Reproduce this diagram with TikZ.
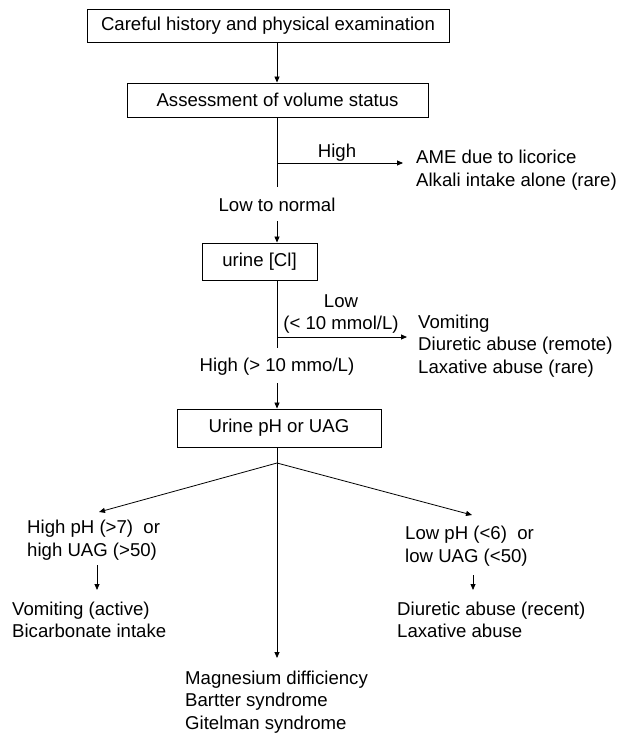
\documentclass[tikz,border=0pt]{standalone}
\usepackage{fontspec}
\setmainfont{Liberation Sans}
\usetikzlibrary{arrows.meta}
\begin{document}
\begin{tikzpicture}[x=1bp,y=-1bp,
  every node/.style={font=\fontsize{18.6bp}{22.5bp}\selectfont, inner sep=0pt},
  box/.style={draw, line width=0.9bp},
  lbl/.style={align=center},
  txt/.style={align=left, anchor=west},
  arr/.style={line width=0.8bp, -{Triangle[length=6bp,width=5bp]}},
  ln/.style={line width=0.8bp}]
\fill[white] (0,0) rectangle (621,735);
\useasboundingbox (0,0) rectangle (621,735);

% boxes
\node[box, minimum width=362bp, minimum height=33bp] (b1) at (268,25.5) {Careful history and physical examination};
\node[box, minimum width=301bp, minimum height=34bp] (b2) at (277.5,100) {Assessment of volume status};
\node[box, minimum width=115bp, minimum height=37bp] (b3) at (259.5,261.5) {urine [Cl]};
\node[box, minimum width=204bp, minimum height=38bp] (b4) at (279,428) {Urine pH or UAG};

% labels and results
\node[lbl] (high1) at (337,153) {High};
\node[txt] (ame) at (416,170) {AME due to licorice\\Alkali intake alone (rare)};
\node[lbl] (ltn) at (277,205) {Low to normal};
\node[lbl] (low) at (341,314) {Low\\(< 10 mmol/L)};
\node[txt] (vom) at (418,346) {Vomiting\\Diuretic abuse (remote)\\Laxative abuse (rare)};
\node[lbl] (high2) at (277,367) {High (> 10 mmo/L)};
\node[txt] (hp) at (27,540) {High pH (>7)\ \ or\\high UAG (>50)};
\node[txt] (vact) at (12,620) {Vomiting (active)\\Bicarbonate intake};
\node[txt] (lp) at (405,546) {Low pH (<6)\ \ or\\low UAG (<50)};
\node[txt] (dr) at (397,620) {Diuretic abuse (recent)\\Laxative abuse};
\node[txt] (mag) at (185,702) {Magnesium difficiency\\Bartter syndrome\\Gitelman syndrome};

% connector points
\coordinate (j1) at (277,163);
\coordinate (a1) at (403,163);
\coordinate (e1) at (277,187);
\coordinate (s2) at (277,221);
\coordinate (j2) at (277,337);
\coordinate (a2) at (407,337);
\coordinate (e2) at (277,348);
\coordinate (s3) at (277,383);
\coordinate (sp) at (277,463);
\coordinate (al) at (99,512);
\coordinate (ar) at (472,515);
\coordinate (ac) at (277,658);
\coordinate (s4) at (97,565);
\coordinate (t4) at (97,590);
\coordinate (s5) at (473,575);
\coordinate (t5) at (473,590);

% connectors
\draw[arr] (b1.south -| j1) -- (b2.north -| j1);
\draw[ln] (b2.south -| j1) -- (e1);
\draw[arr] (j1) -- (a1);
\draw[arr] (s2) -- (b3.north -| s2);
\draw[ln] (b3.south -| j2) -- (e2);
\draw[arr] (j2) -- (a2);
\draw[arr] (s3) -- (b4.north -| s3);
\draw[ln] (b4.south -| sp) -- (sp);
\draw[arr] (sp) -- (al);
\draw[arr] (sp) -- (ar);
\draw[arr] (sp) -- (ac);
\draw[arr] (s4) -- (t4);
\draw[arr] (s5) -- (t5);
\end{tikzpicture}
\end{document}
